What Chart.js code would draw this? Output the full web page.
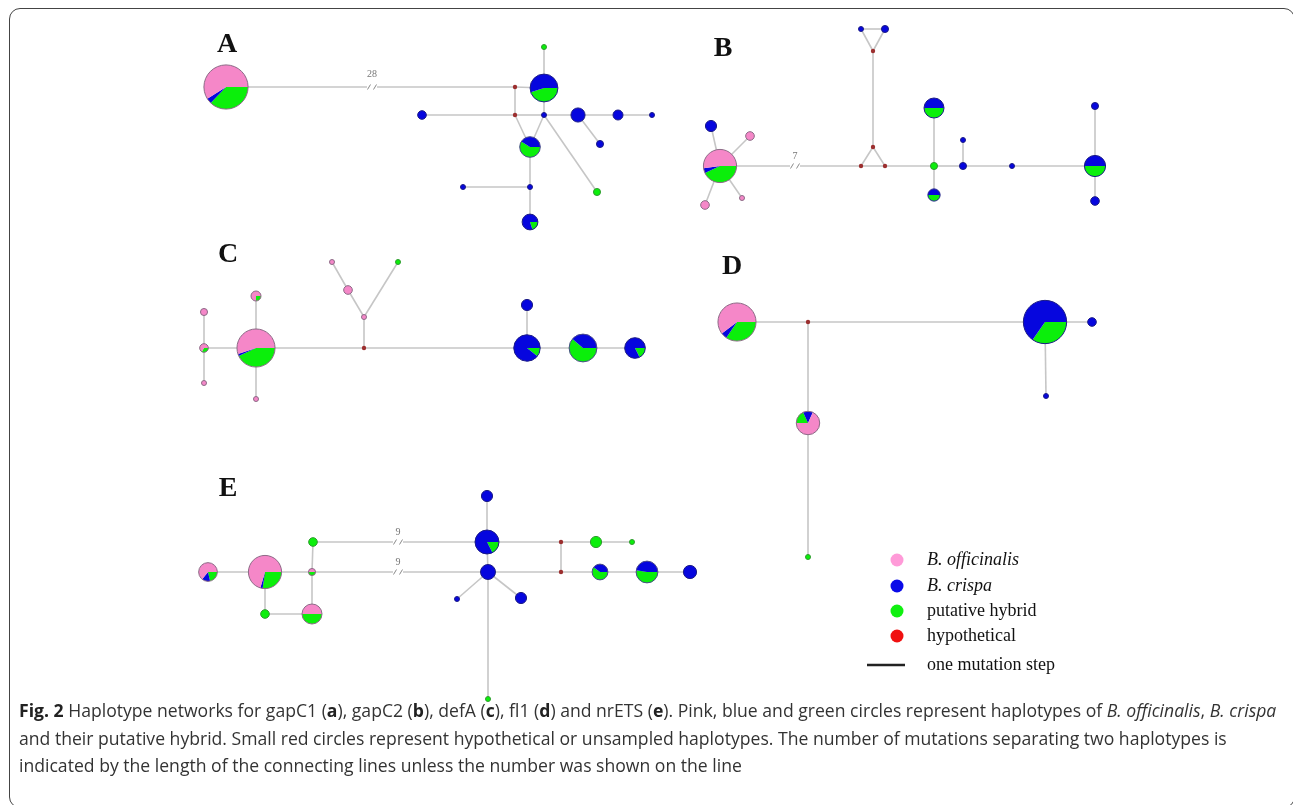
<!DOCTYPE html>
<html>
<head>
<meta charset="utf-8">
<script src="https://cdn.jsdelivr.net/npm/chart.js@4.4.1/dist/chart.umd.min.js"></script>
<style>
  html, body { margin: 0; padding: 0; background: #fff; overflow: hidden; }
  body { width: 1293px; height: 805px; position: relative; }
  #frame { position: absolute; left: 9px; top: 8px; width: 1286px; height: 800px; border: 1.5px solid #444; border-radius: 11px; box-sizing: border-box; }
  #chart-wrap { position: absolute; left: 0; top: 0; width: 1293px; height: 805px; }
  #caption { position: absolute; left: 19px; top: 697px; font-family: 'Open Sans', sans-serif; font-size: 17.6px; line-height: 27.5px; color: #333; white-space: nowrap; }
  #caption b { color: #222; }
</style>
</head>
<body>
<div id="frame"></div>
<div id="chart-wrap"><canvas id="net"></canvas></div>
<div id="caption">
  <b>Fig. 2</b> Haplotype networks for gapC1 (<b>a</b>), gapC2 (<b>b</b>), defA (<b>c</b>), fl1 (<b>d</b>) and nrETS (<b>e</b>). Pink, blue and green circles represent haplotypes of <i>B. officinalis</i>, <i>B. crispa</i><br>
  and their putative hybrid. Small red circles represent hypothetical or unsampled haplotypes. The number of mutations separating two haplotypes is<br>
  indicated by the length of the connecting lines unless the number was shown on the line
</div>
<script>
// --- colours ---
const PINK = '#f587c8', BLUE = '#0606de', GREEN = '#0bef0b', HYPO = '#9c2f2f';

// --- haplotype nodes: [x, y, pink, blue, green]   (all zero = hypothetical) ---
const gapC1Nodes = [
    [226, 87, 46, 3, 29], [515, 87, 0, 0, 0], [544, 88, 0, 17, 14], [544, 47, 0, 0, 1],
    [515, 115, 0, 0, 0], [422, 115, 0, 3, 0], [544, 115, 0, 1, 0], [578, 115, 0, 8, 0],
    [618, 115, 0, 4, 0], [652, 115, 0, 1, 0], [530, 147, 0, 7, 10], [600, 144, 0, 2, 0],
    [597, 192, 0, 0, 2], [530, 187, 0, 1, 0], [463, 187, 0, 1, 0], [530, 222, 0, 8, 2]
];
const gapC1Edges = [[0,1],[1,2],[2,3],[1,4],[5,4],[4,6],[6,7],[7,8],[8,9],[2,6],[4,10],[6,10],[7,11],[6,12],[10,13],[14,13],[13,15]];
const gapC1Breaks = [[0, 1, 372, '28']];

const gapC2Nodes = [
    [720, 166, 23, 2, 19], [711, 126, 0, 5, 0], [750, 136, 3, 0, 0], [705, 205, 3, 0, 0],
    [742, 198, 1, 0, 0], [861, 166, 0, 0, 0], [885, 166, 0, 0, 0], [873, 147, 0, 0, 0],
    [873, 51, 0, 0, 0], [861, 29, 0, 1, 0], [885, 29, 0, 2, 0], [934, 166, 0, 0, 2],
    [934, 108, 0, 8, 8], [934, 195, 0, 3, 3], [963, 166, 0, 2, 0], [963, 140, 0, 1, 0],
    [1012, 166, 0, 1, 0], [1095, 166, 0, 9, 9], [1095, 106, 0, 2, 0], [1095, 201, 0, 3, 0]
];
const gapC2Edges = [[0,1],[0,2],[0,3],[0,4],[0,5],[5,6],[5,7],[6,7],[7,8],[8,9],[8,10],[9,10],[6,11],[11,12],[11,13],[11,14],[14,15],[14,16],[16,17],[17,18],[17,19]];
const gapC2Breaks = [[0, 5, 795, '7']];

const defANodes = [
    [256, 348, 32, 1, 25], [256, 296, 3, 0, 1], [256, 399, 1, 0, 0], [204, 348, 2, 0, 1],
    [204, 312, 2, 0, 0], [204, 383, 1, 0, 0], [364, 348, 0, 0, 0], [364, 317, 1, 0, 0],
    [348, 290, 3, 0, 0], [332, 262, 1, 0, 0], [398, 262, 0, 0, 1], [527, 348, 0, 25, 3],
    [527, 305, 0, 5, 0], [583, 348, 0, 12, 19], [635, 348, 0, 14, 3]
];
const defAEdges = [[3,0],[4,3],[3,5],[0,1],[0,2],[0,6],[6,7],[7,8],[8,9],[7,10],[6,11],[11,12],[11,13],[13,14]];
const defABreaks = [];

const fl1Nodes = [
    [737, 322, 35, 3, 20], [808, 322, 0, 0, 0], [1045, 322, 0, 49, 26], [1092, 322, 0, 3, 0],
    [1046, 396, 0, 1, 0], [808, 423, 15, 3, 4], [808, 557, 0, 0, 1]
];
const fl1Edges = [[0,1],[1,2],[2,3],[2,4],[1,5],[5,6]];
const fl1Breaks = [];

const nrETSNodes = [
    [208, 572, 9, 2, 3], [265, 572, 31, 1, 12], [312, 572, 1, 0, 1], [313, 542, 0, 0, 3],
    [312, 614, 8, 0, 8], [265, 614, 0, 0, 3], [487, 542, 0, 19, 4], [488, 572, 0, 9, 0],
    [487, 496, 0, 5, 0], [457, 599, 0, 1, 0], [521, 598, 0, 5, 0], [488, 699, 0, 0, 1],
    [561, 542, 0, 0, 0], [596, 542, 0, 0, 5], [632, 542, 0, 0, 1], [561, 572, 0, 0, 0],
    [600, 572, 0, 4, 6], [647, 572, 0, 9, 10], [690, 572, 0, 7, 0]
];
const nrETSEdges = [[0,1],[1,2],[2,3],[2,4],[1,5],[5,4],[3,6],[2,7],[8,6],[6,7],[7,11],[7,9],[7,10],[6,12],[12,13],[13,14],[7,15],[12,15],[15,16],[16,17],[17,18]];
const nrETSBreaks = [[3, 6, 398, '9'], [2, 7, 398, '9']];

// pie rotation where the slices do not start at 3 o'clock
const pieStartDeg = { 'fl1-5': 180 };

// --- panel letters and legend ---
const panelLabels = ['A', 'B', 'C', 'D', 'E'];
const panelLabelX = [227, 723, 228, 732, 228];
const panelLabelY = [45, 49, 255, 267, 489];
const legendLabels = ['B. officinalis', 'B. crispa', 'putative hybrid', 'hypothetical', 'one mutation step'];
const legendColors = ['#ff9ad8', '#0a0ae8', '#10f010', '#f01010', '#222'];

const panels = [
    { id: 'gapC1', nodes: gapC1Nodes, edges: gapC1Edges, breaks: gapC1Breaks },
    { id: 'gapC2', nodes: gapC2Nodes, edges: gapC2Edges, breaks: gapC2Breaks },
    { id: 'defA',  nodes: defANodes,  edges: defAEdges,  breaks: defABreaks },
    { id: 'fl1',   nodes: fl1Nodes,   edges: fl1Edges,   breaks: fl1Breaks },
    { id: 'nrETS', nodes: nrETSNodes, edges: nrETSEdges, breaks: nrETSBreaks }
];

// radius grows with the square root of the haplotype count
function nodeRadius(n) { return n > 0 ? 2.5 * Math.sqrt(n) : 2.2; }

const datasets = [];
panels.forEach(p => {
    p.edges.forEach(([a, b]) => {
        datasets.push({
            data: [{ x: p.nodes[a][0], y: p.nodes[a][1] }, { x: p.nodes[b][0], y: p.nodes[b][1] }],
            showLine: true,
            borderColor: '#c6c6c6',
            borderWidth: 1.6,
            pointRadius: 0,
            pointHoverRadius: 0
        });
    });
});
panels.forEach(p => {
    datasets.push({
        label: p.id,
        panelId: p.id,
        nodeInfo: p.nodes,
        data: p.nodes.map(n => ({ x: n[0], y: n[1] })),
        pointRadius: 0,
        pointHoverRadius: 0,
        pointHitRadius: 6
    });
});

function drawPie(ctx, x, y, r, node, startDeg) {
    const pink = node[2], blue = node[3], green = node[4];
    const total = pink + blue + green;
    if (!total) {
        ctx.beginPath(); ctx.arc(x, y, r, 0, Math.PI * 2);
        ctx.fillStyle = HYPO; ctx.fill();
        return;
    }
    let a = (startDeg || 0) * Math.PI / 180;
    [[green, GREEN], [blue, BLUE], [pink, PINK]].forEach(([v, c]) => {
        if (!v) return;
        const a2 = a + v / total * Math.PI * 2;
        ctx.beginPath(); ctx.moveTo(x, y); ctx.arc(x, y, r, a, a2); ctx.closePath();
        ctx.fillStyle = c; ctx.fill();
        a = a2;
    });
    let outline = '#8c6a86';
    if (pink < blue && green <= blue) outline = '#1c1c86';
    else if (pink < green && blue < green) outline = pink ? '#8c6a86' : (blue ? '#4a4a8a' : '#2f9a2f');
    ctx.beginPath(); ctx.arc(x, y, r, 0, Math.PI * 2);
    ctx.strokeStyle = outline; ctx.lineWidth = 1; ctx.stroke();
}

const networkPlugin = {
    id: 'network',
    afterDatasetsDraw(chart) {
        const ctx = chart.ctx;
        const xs = chart.scales.x, ys = chart.scales.y;
        const unit = xs.getPixelForValue(1) - xs.getPixelForValue(0);
        ctx.save();

        // broken edges with the number of steps
        panels.forEach(p => {
            p.breaks.forEach(([a, , bx, label]) => {
                const x = xs.getPixelForValue(bx);
                const y = ys.getPixelForValue(p.nodes[a][1]);
                ctx.fillStyle = '#fff';
                ctx.fillRect(x - 5, y - 3, 10, 6);
                ctx.strokeStyle = '#8a8a8a'; ctx.lineWidth = 1;
                [-3, 3].forEach(dx => {
                    ctx.beginPath(); ctx.moveTo(x + dx - 1.5, y + 2.5); ctx.lineTo(x + dx + 1.5, y - 2.5); ctx.stroke();
                });
                ctx.font = '10px "Liberation Serif"';
                ctx.fillStyle = '#777'; ctx.textAlign = 'center'; ctx.textBaseline = 'middle';
                ctx.fillText(label, x, y - (label.length > 1 ? 13 : 10));
            });
        });

        // haplotype pies
        chart.data.datasets.forEach((ds, di) => {
            if (!ds.nodeInfo) return;
            const meta = chart.getDatasetMeta(di);
            meta.data.forEach((pt, i) => {
                const node = ds.nodeInfo[i];
                const r = nodeRadius(node[2] + node[3] + node[4]) * unit;
                drawPie(ctx, pt.x, pt.y, r, node, pieStartDeg[ds.panelId + '-' + i]);
            });
        });

        // panel letters
        ctx.fillStyle = '#111';
        ctx.font = 'bold 28px "Liberation Serif"';
        ctx.textAlign = 'center'; ctx.textBaseline = 'middle';
        panelLabels.forEach((t, i) => {
            ctx.fillText(t, xs.getPixelForValue(panelLabelX[i]), ys.getPixelForValue(panelLabelY[i]));
        });

        // legend
        const lx = xs.getPixelForValue(897), tx = xs.getPixelForValue(927);
        const rows = [560, 586, 611, 636, 665];
        ctx.textAlign = 'left';
        legendLabels.forEach((t, i) => {
            const y = ys.getPixelForValue(rows[i]);
            if (i < 4) {
                ctx.beginPath(); ctx.arc(lx, y, 6.5, 0, Math.PI * 2);
                ctx.fillStyle = legendColors[i]; ctx.fill();
            } else {
                ctx.beginPath(); ctx.moveTo(lx - 30, y); ctx.lineTo(lx + 8, y);
                ctx.strokeStyle = legendColors[i]; ctx.lineWidth = 2.5; ctx.stroke();
            }
            ctx.fillStyle = '#111';
            ctx.font = (i < 2 ? 'italic ' : '') + '18px "Liberation Serif"';
            ctx.fillText(t, tx, y);
        });
        ctx.restore();
    }
};

new Chart(document.getElementById('net'), {
    type: 'scatter',
    data: { datasets },
    options: {
        responsive: true,
        maintainAspectRatio: false,
        animation: false,
        devicePixelRatio: 1,
        layout: { padding: 0 },
        plugins: { legend: { display: false }, tooltip: { enabled: false } },
        scales: {
            x: { type: 'linear', min: 0, max: 1293, display: false },
            y: { type: 'linear', min: 0, max: 805, reverse: true, display: false }
        }
    },
    plugins: [networkPlugin]
});
</script>
</body>
</html>
